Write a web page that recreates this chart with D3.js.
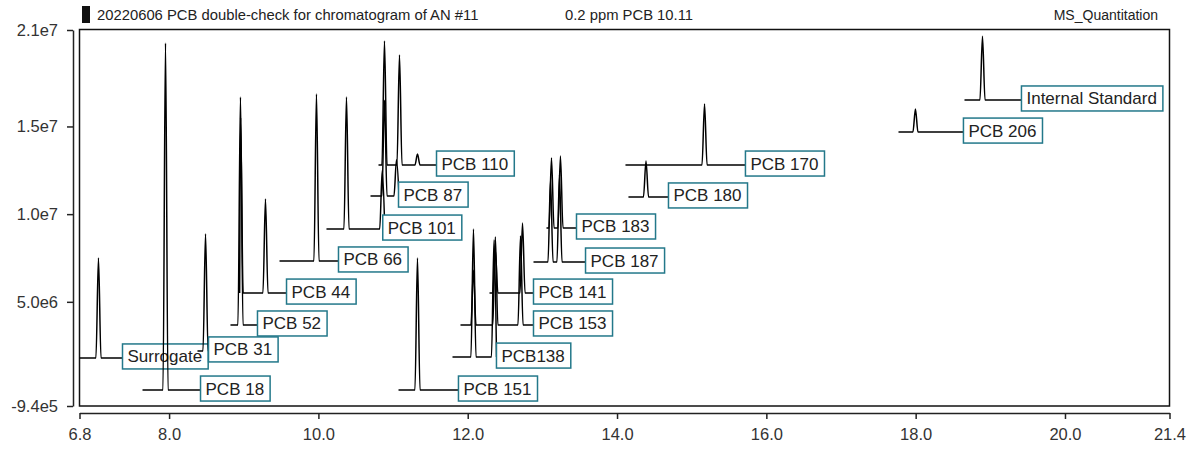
<!DOCTYPE html>
<html lang="en">
<head>
<meta charset="UTF-8">
<title>Chromatogram</title>
<script src="https://cdn.jsdelivr.net/npm/d3@7"></script>
<style>
  body { margin: 0; background: #fff; }
  svg { display: block; font-family: "Liberation Sans", Arial, sans-serif; }
</style>
</head>
<body>
<script>

    // one trace per compound: baseline, start / end time (min), peaks as [rt, apex]
    let traceNames = ["Surrogate", "PCB 18", "PCB 31", "PCB 52", "PCB 44", "PCB 66",
        "PCB 101", "PCB 87", "PCB 110", "PCB 151", "PCB138", "PCB 153", "PCB 141",
        "PCB 187", "PCB 183", "PCB 180", "PCB 170", "PCB 206", "Internal Standard"];

    let traceBase = [1.80e6, -0.03e6, 2.20e6, 3.68e6, 5.50e6, 7.33e6,
        9.15e6, 11.03e6, 12.80e6, -0.03e6, 1.85e6, 3.68e6, 5.50e6,
        7.27e6, 9.21e6, 10.98e6, 12.80e6, 14.68e6, 16.51e6];

    let traceStart = [6.80, 7.644, 8.38, 8.822, 8.945, 9.479,
        10.108, 10.698, 10.805, 11.073, 11.796, 11.903, 12.292,
        12.881, 13.055, 14.153, 14.113, 17.770, 18.654];

    let traceEnd = [7.376, 8.421, 8.528, 9.184, 9.573, 10.269,
        10.862, 11.073, 11.582, 11.876, 12.385, 12.881, 12.881,
        13.578, 13.457, 14.689, 15.720, 18.640, 19.417];

    let tracePeaks = [
        [[7.054, 7.50e6]],
        [[7.952, 19.76e6]],
        [[8.488, 8.87e6]],
        [[8.956, 16.68e6]],
        [[8.958, 15.5e6], [9.291, 10.86e6]],
        [[9.974, 16.85e6]],
        [[10.376, 16.68e6], [10.855, 12.5e6]],
        [[10.885, 16.5e6], [11.046, 13.1e6]],
        [[10.885, 19.87e6], [11.086, 19.07e6], [11.327, 13.43e6]],
        [[11.327, 7.50e6]],
        [[12.077, 9.15e6], [12.352, 8.52e6]],
        [[12.077, 6.80e6], [12.37, 8.70e6], [12.707, 8.75e6]],
        [[12.37, 7.95e6], [12.734, 9.49e6]],
        [[13.109, 11.94e6], [13.229, 12.23e6]],
        [[13.122, 13.20e6], [13.242, 13.31e6]],
        [[14.388, 13.03e6]],
        [[15.172, 16.28e6]],
        [[17.997, 15.99e6]],
        [[18.895, 20.15e6]]
    ];

    let xTicks = [6.8, 8, 10, 12, 14, 16, 18, 20, 21.4];
    let yTicks = [-9.4e5, 5e6, 1e7, 1.5e7, 2.05e7];
    let yTickLabels = ["-9.4e5", "5.0e6", "1.0e7", "1.5e7", "2.1e7"];

    let headerLeft = "20220606 PCB double-check for chromatogram of AN #11";
    let headerMid = "0.2 ppm PCB 10.11";
    let headerRight = "MS_Quantitation";

    let svg_width = 1194, svg_height = 450;
    let plot_left = 79.5, plot_right = 1169.5, plot_top = 30, plot_bottom = 406;
    let peakHalf = 0.034;

    let svg = d3.select("body").append("svg")
        .attr("width", svg_width)
        .attr("height", svg_height);

    let x = d3.scaleLinear().domain([6.8, 21.4]).range([plot_left, plot_right]);
    let y = d3.scaleLinear().domain([-9.4e5, 2.05e7]).range([plot_bottom, plot_top]);

    // header
    svg.append("rect")
        .attr("x", 82).attr("y", 6).attr("width", 8).attr("height", 17)
        .style("fill", "#111");
    svg.append("text").attr("x", 97).attr("y", 19.5).text(headerLeft)
        .style("font-size", "14.8px").style("fill", "#222");
    svg.append("text").attr("x", 565).attr("y", 19.5).text(headerMid)
        .style("font-size", "14.8px").style("fill", "#222");
    svg.append("text").attr("x", 1158).attr("y", 19.5).text(headerRight)
        .attr("text-anchor", "end")
        .style("font-size", "14px").style("fill", "#222");

    // axes, set apart from the frame
    let yAxis = svg.append("g")
        .attr("transform", "translate(73,0)")
        .call(d3.axisLeft(y).tickValues(yTicks)
            .tickFormat(function (d, i) { return yTickLabels[i]; })
            .tickSize(6).tickSizeOuter(0).tickPadding(9));

    let xAxis = svg.append("g")
        .attr("transform", "translate(0,413)")
        .call(d3.axisBottom(x).tickValues(xTicks)
            .tickFormat(d3.format(".1f"))
            .tickSize(6).tickSizeOuter(0).tickPadding(9));

    svg.selectAll(".tick text")
        .style("font-size", "16.5px")
        .style("fill", "#333")
        .style("font-family", "'Liberation Sans', Arial, sans-serif");
    svg.selectAll(".domain, .tick line")
        .style("stroke", "#222")
        .style("stroke-width", "1.5px");

    svg.append("rect")
        .attr("x", plot_left).attr("y", plot_top - 0.5)
        .attr("width", plot_right - plot_left).attr("height", plot_bottom - plot_top + 0.5)
        .style("fill", "none")
        .style("stroke", "#111")
        .style("stroke-width", "1.5px");

    let line = d3.line()
        .x(function (d) { return x(d[0]); })
        .y(function (d) { return y(d[1]); })
        .curve(d3.curveMonotoneX);

    function tracePoints(i) {
        let base = traceBase[i];
        let pts = [[traceStart[i], base]];
        tracePeaks[i].forEach(function (p) {
            pts.push([p[0] - peakHalf, base]);
            pts.push([p[0], p[1]]);
            pts.push([p[0] + peakHalf, base]);
        });
        pts.push([traceEnd[i], base]);
        let out = [];
        pts.forEach(function (p) {
            if (out.length === 0 || p[0] > out[out.length - 1][0]) out.push(p);
        });
        return out;
    }

    traceNames.forEach(function (name, i) {
        let g = svg.append("g");

        g.append("path")
            .attr("d", line(tracePoints(i)))
            .style("fill", "none")
            .style("stroke", "#000")
            .style("stroke-width", "1.5px")
            .style("stroke-linejoin", "round");

        let bx = x(traceEnd[i]);
        let cy = y(traceBase[i]) - 1.5;

        let box = g.append("rect")
            .attr("x", bx).attr("y", cy - 12.5)
            .attr("height", 25)
            .style("fill", "#fff")
            .style("stroke", "#23788a")
            .style("stroke-width", "1.5px");

        let label = g.append("text")
            .attr("x", bx + 5).attr("y", cy + 6)
            .text(name)
            .style("font-size", "17px")
            .style("fill", "#222");

        let w = label.node().getComputedTextLength() + 11;
        box.attr("width", Math.min(w, plot_right - bx));
    });

</script>
</body>
</html>
